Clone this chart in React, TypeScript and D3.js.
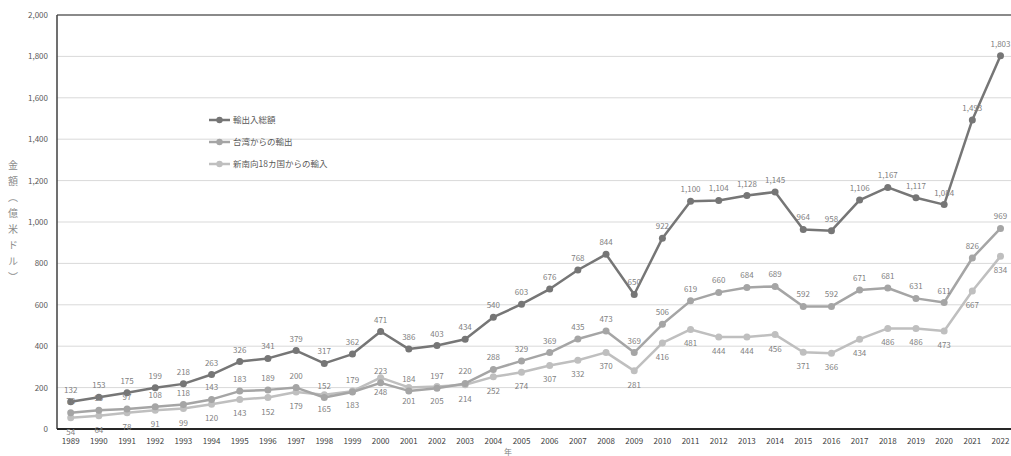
import React from "react";
import * as d3 from "d3";

const years = d3.range(1989, 2023).map(String);
const total = [132,153,175,199,218,263,326,341,379,317,362,471,386,403,434,540,603,676,768,844,650,922,1100,1104,1128,1145,964,958,1106,1167,1117,1084,1493,1803];
const fromTaiwan = [78,90,97,108,118,143,183,189,200,152,179,223,184,197,220,288,329,369,435,473,369,506,619,660,684,689,592,592,671,681,631,611,826,969];
const imports18 = [54,64,78,91,99,120,143,152,179,165,183,248,201,205,214,252,274,307,332,370,281,416,481,444,444,456,371,366,434,486,486,473,667,834];
const seriesNames = ["輸出入総額", "台湾からの輸出", "新南向18カ国からの輸入"];
const yTicks = [0,200,400,600,800,1000,1200,1400,1600,1800,2000];
const yTitle = "金額（億米ドル）";

const FONT = "'Noto Sans CJK JP', 'Noto Sans', sans-serif";

export default function App() {
  const W = 1011, H = 456;
  const left = 57, top = 15, bottom = 429;
  const x = d3.scalePoint<string>().domain(years).range([70.7, 1000.5]);
  const y = d3.scaleLinear().domain([0, 2000]).range([bottom, top]);
  const line = d3.line<number>().x((_, i) => x(years[i])!).y((v) => y(v));
  const fmt = d3.format(",");

  const series = [
    { name: seriesNames[2], data: imports18, color: "#bfbfbf", pos: "below" },
    { name: seriesNames[1], data: fromTaiwan, color: "#a5a5a5", pos: "above" },
    { name: seriesNames[0], data: total, color: "#767676", pos: "above" },
  ];
  const legendOrder = [series[2], series[1], series[0]];
  const legendY = [120, 142, 164];

  return (
    <svg width={W} height={H} style={{ position: "absolute", left: 0, top: 0, fontFamily: FONT }}>
      <rect width={W} height={H} fill="#fff" />
      {yTicks.slice(1, -1).map((t) => (
        <line key={t} x1={left} x2={W} y1={y(t)} y2={y(t)} stroke="#d9d9d9" strokeWidth={1} />
      ))}
      <line x1={left} x2={W} y1={y(2000)} y2={y(2000)} stroke="#8a8a8a" strokeWidth={2} />
      <line x1={left} x2={left} y1={top} y2={bottom} stroke="#404040" strokeWidth={1.5} />
      <line x1={left} x2={W} y1={bottom} y2={bottom} stroke="#262626" strokeWidth={2} />
      {yTicks.map((t) => (
        <text key={t} x={48} y={y(t) + 3} textAnchor="end" fontSize={8} fill="#595959">{fmt(t)}</text>
      ))}
      {years.map((yr) => (
        <text key={yr} x={x(yr)} y={444} textAnchor="middle" fontSize={8} fill="#404040">{yr}</text>
      ))}
      <text x={508} y={455} textAnchor="middle" fontSize={8} fill="#7f7f7f">年</text>
      <text x={13} y={160} fontSize={10} fill="#8c8c8c" letterSpacing={6}
        style={{ writingMode: "vertical-rl" }}>{yTitle}</text>
      {series.map((s) => (
        <g key={s.name}>
          <path d={line(s.data)!} fill="none" stroke={s.color} strokeWidth={2.5} strokeLinejoin="round" />
          {s.data.map((v, i) => (
            <circle key={i} cx={x(years[i])} cy={y(v)} r={3.5} fill={s.color} />
          ))}
        </g>
      ))}
      {series.map((s) => (
        <g key={s.name + "l"}>
          {s.data.map((v, i) => (
            <text key={i} x={x(years[i])} y={s.pos === "above" ? y(v) - 9 : y(v) + 17}
              textAnchor="middle" fontSize={8} fill="#7f7f7f">{fmt(v)}</text>
          ))}
        </g>
      ))}
      {legendOrder.map((s, i) => (
        <g key={s.name + "lg"}>
          <line x1={209} x2={230} y1={legendY[i]} y2={legendY[i]} stroke={s.color} strokeWidth={2.5} />
          <circle cx={219.5} cy={legendY[i]} r={3.2} fill={s.color} />
          <text x={233} y={legendY[i] + 3} fontSize={8.5} fill="#595959">{s.name}</text>
        </g>
      ))}
    </svg>
  );
}
